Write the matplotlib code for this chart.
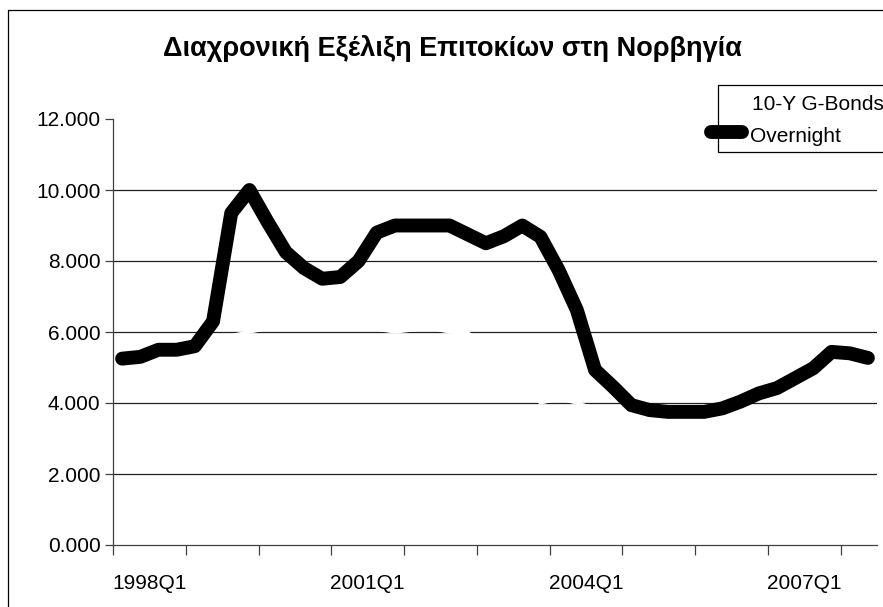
import matplotlib
matplotlib.use("Agg")
import numpy as np
import matplotlib.pyplot as plt
from matplotlib.patches import Rectangle
from matplotlib.lines import Line2D

# quarters 1998Q1 .. 2008Q2
quarters = [f"{y}Q{q}" for y in range(1998, 2009) for q in range(1, 5)][:42]

overnight = [5.25, 5.30, 5.50, 5.50, 5.60, 6.30, 9.35, 10.00, 9.10, 8.25,
             7.80, 7.50, 7.55, 8.00, 8.80, 9.00, 9.00, 9.00, 9.00, 8.75,
             8.50, 8.70, 9.00, 8.68, 7.74, 6.62, 4.93, 4.45, 3.94, 3.80,
             3.75, 3.75, 3.75, 3.85, 4.04, 4.27, 4.42, 4.70, 4.98, 5.44,
             5.40, 5.27]

# drawn in white in the original, only visible where it hides the grid
bonds_10y = [5.50, 5.40, 5.30, 5.00, 5.10, 5.60, 5.90, 6.00, 6.10, 6.30,
             6.40, 6.50, 6.30, 6.15, 6.08, 6.00, 6.06, 6.10, 6.00, 5.98,
             5.60, 5.10, 4.60, 4.00, 4.12, 4.00, 3.85, 3.75, 3.70, 3.70,
             3.72, 3.75, 3.80, 3.90, 4.05, 4.30, 4.50, 4.70, 4.80, 4.60,
             4.50, 4.60]

label_quarters = ["1998Q1", "2001Q1", "2004Q1", "2007Q1"]
y_ticks = [0, 2, 4, 6, 8, 10, 12]

W, H = 883, 607
FONT = "Liberation Sans"

def fx(x):
    return x / W

def fy(y):
    return 1 - y / H

fig = plt.figure(figsize=(W / 100, H / 100), dpi=100)
fig.patch.set_facecolor("white")

# outer chart border, only left and top edges fall inside the picture
fig.add_artist(Line2D([fx(8), fx(8), fx(W + 5)], [fy(H + 5), fy(10), fy(10)],
                      transform=fig.transFigure, color="black", linewidth=0.9))

ax = fig.add_axes([fx(113), fy(545), (877 - 113) / W, (545 - 119) / H])
x = np.arange(len(quarters))

for v in y_ticks[1:-1]:
    ax.axhline(v, color="#202020", linewidth=0.9, zorder=1)

ax.plot(x, bonds_10y, color="white", linewidth=2.4, zorder=2,
        solid_joinstyle="round")
ax.plot(x, overnight, color="black", linewidth=10, zorder=3,
        solid_capstyle="round", solid_joinstyle="round")

ax.set_xlim(-0.5, len(quarters) - 0.5)
ax.set_ylim(0, 12)
ax.set_yticks(y_ticks)
ax.set_yticklabels([f"{v:.3f}" for v in y_ticks])

ax.set_xticks(np.arange(-0.5, len(quarters) - 1, 4))
ax.set_xticklabels([])
ax.set_xticks([quarters.index(q) + 1.5 for q in label_quarters], minor=True)
ax.set_xticklabels(label_quarters, minor=True)

ax.tick_params(axis="x", which="major", length=7, width=0.9, color="#404040",
               direction="out")
ax.tick_params(axis="x", which="minor", length=0, pad=21)
ax.tick_params(axis="y", length=6, width=0.9, color="#404040", pad=3)
for lab in ax.get_xticklabels(minor=True) + ax.get_yticklabels():
    lab.set_fontfamily(FONT)
    lab.set_fontsize(15)

for s in ["top", "right"]:
    ax.spines[s].set_visible(False)
for s in ["left", "bottom"]:
    ax.spines[s].set_color("#404040")
    ax.spines[s].set_linewidth(0.9)

fig.text(fx(452), fy(48), "Διαχρονική Εξέλιξη Επιτοκίων στη Νορβηγία",
         ha="center", va="center", fontsize=19.5, fontweight="bold",
         fontfamily=FONT)

# legend box, runs off the right edge like the original
fig.add_artist(Rectangle((fx(718), fy(152)), fx(300), (152 - 85) / H,
                         transform=fig.transFigure, facecolor="white",
                         edgecolor="black", linewidth=0.9, zorder=5))
fig.add_artist(Line2D([fx(711), fx(742)], [fy(132), fy(132)],
                      transform=fig.transFigure, color="black",
                      linewidth=10, solid_capstyle="round", zorder=6))
fig.text(fx(752), fy(104), "10-Y G-Bonds", ha="left", va="center",
         fontsize=15, fontfamily=FONT, zorder=6)
fig.text(fx(750), fy(137), "Overnight", ha="left", va="center",
         fontsize=15, fontfamily=FONT, zorder=6)

fig.savefig("out.png", dpi=100, facecolor="white")
